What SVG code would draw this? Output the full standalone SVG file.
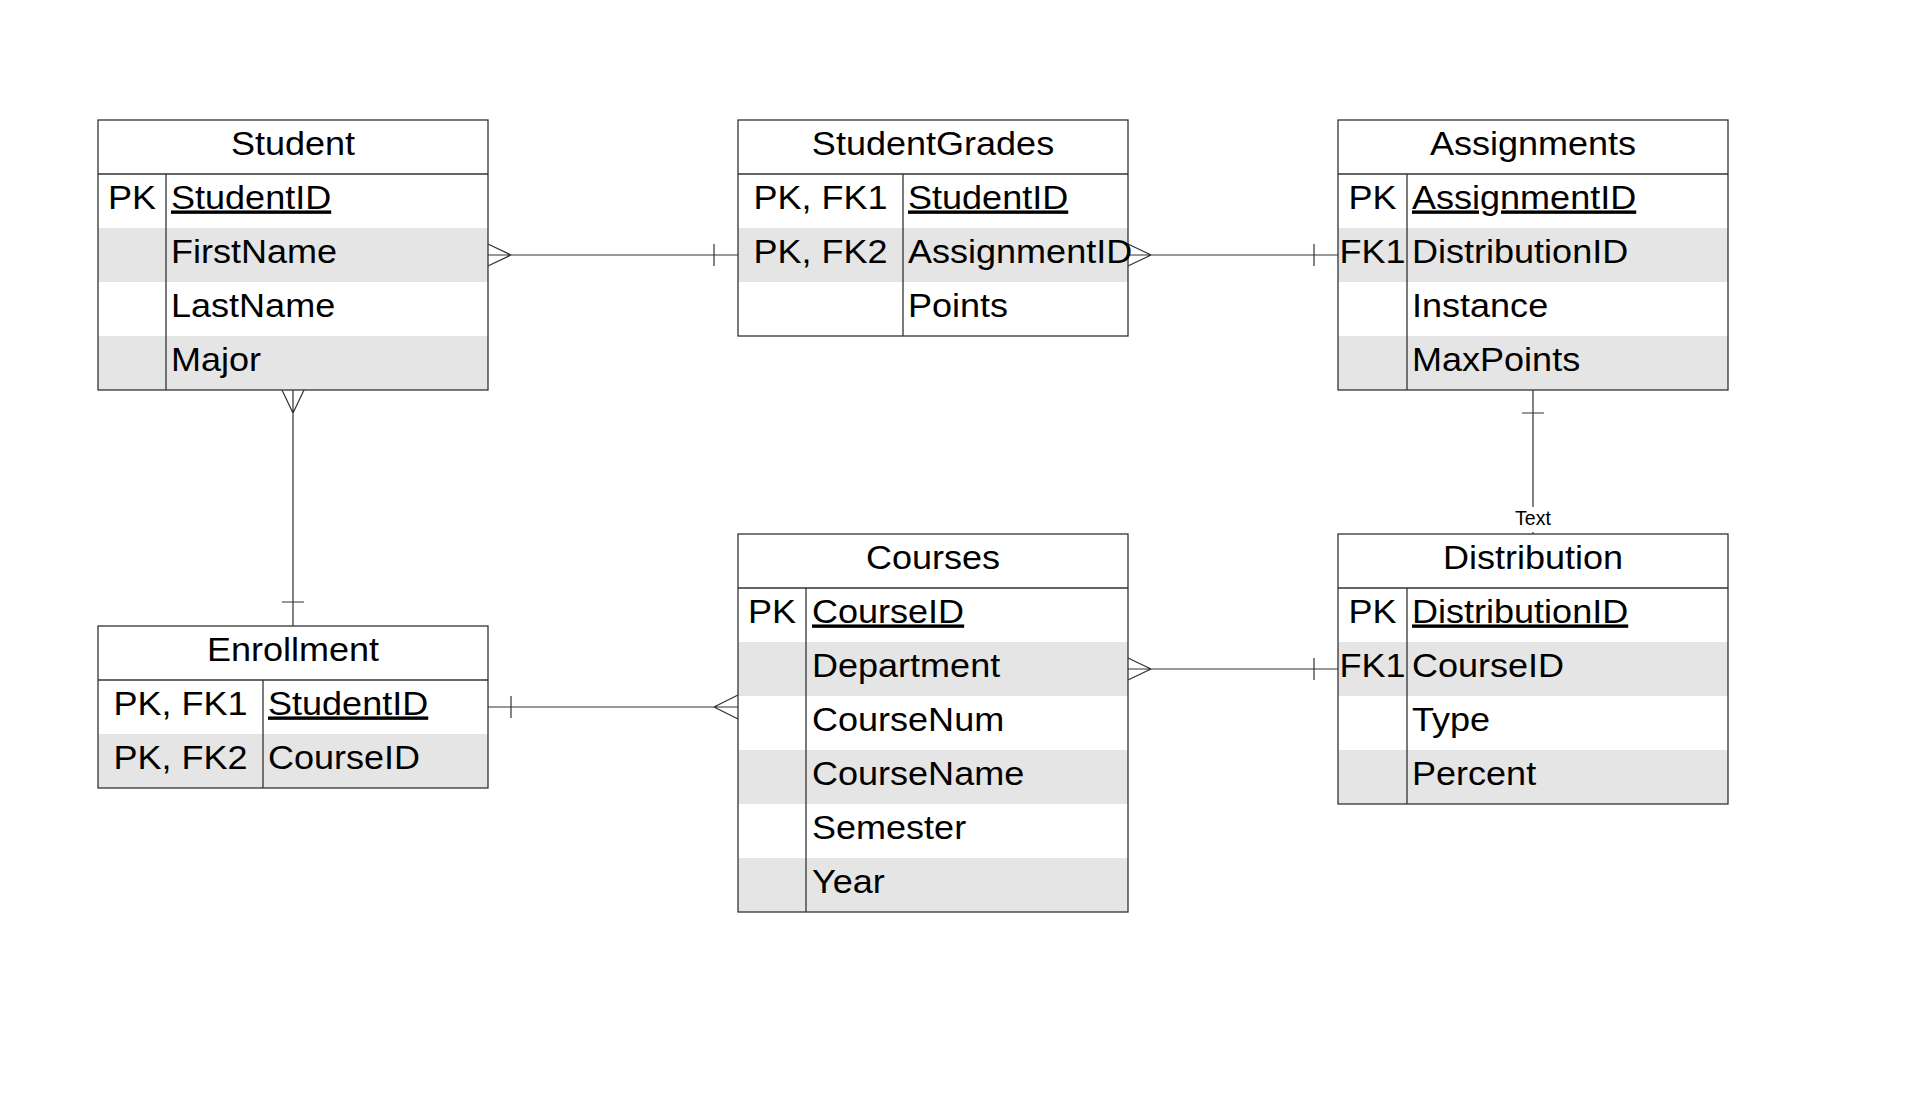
<svg xmlns="http://www.w3.org/2000/svg" width="1916" height="1104" viewBox="0 0 1916 1104">
<style>
.bg{fill:#ffffff}
.box{fill:none;stroke:#333333;stroke-width:1.3}
.div{fill:none;stroke:#333333;stroke-width:1.3}
.alt{fill:#e5e5e5;stroke:none}
.t{font-family:"Liberation Sans",Arial,sans-serif;font-size:34px;fill:#000000}
.h{text-anchor:middle}
.k{text-anchor:middle}
.u{text-decoration:underline}
.c{fill:none;stroke:#333333;stroke-width:1.2}
.lbl{font-family:"Liberation Sans",Arial,sans-serif;font-size:19.5px;fill:#000000;text-anchor:middle}
</style>
<rect x="0" y="0" width="1916" height="1104" fill="#ffffff"/>

<g id="connectors">
  <!-- Student - StudentGrades -->
  <path class="c" d="M488,255 H738 M488,244 L511,255 L488,266 M714,244 V266"/>
  <!-- StudentGrades - Assignments -->
  <path class="c" d="M1128,255 H1338 M1128,244 L1151,255 L1128,266 M1314,244 V266"/>
  <!-- Student - Enrollment -->
  <path class="c" d="M293,390 V626 M282,390 L293,413 L304,390 M282,602 H304"/>
  <!-- Enrollment - Courses -->
  <path class="c" d="M488,707 H738 M511,696 V718 M738,695 L714,707 L738,719"/>
  <!-- Courses - Distribution -->
  <path class="c" d="M1128,669 H1338 M1128,658 L1151,669 L1128,680 M1314,658 V680"/>
  <!-- Assignments - Distribution -->
  <path class="c" d="M1533,390 V534 M1522,413 H1544"/>
  <rect x="1511" y="507" width="44" height="25" fill="#ffffff"/>
  <text class="lbl" x="1533" y="525">Text</text>
</g>

<g id="student">
  <rect class="bg" x="98" y="120" width="390" height="270"/>
  <rect class="alt" x="98" y="228" width="390" height="54"/>
  <rect class="alt" x="98" y="336" width="390" height="54"/>
  <path class="div" d="M98,174 H488 M166,174 V390"/>
  <rect class="box" x="98" y="120" width="390" height="270"/>
  <text class="t h" transform="translate(293,154.5) scale(1.06,1)">Student</text>
  <text class="t k" transform="translate(132,208.5) scale(1.06,1)">PK</text>
  <text class="t u" transform="translate(171,208.5) scale(1.06,1)">StudentID</text>
  <text class="t" transform="translate(171,262.5) scale(1.06,1)">FirstName</text>
  <text class="t" transform="translate(171,316.5) scale(1.06,1)">LastName</text>
  <text class="t" transform="translate(171,370.5) scale(1.06,1)">Major</text>
</g>

<g id="studentgrades">
  <rect class="bg" x="738" y="120" width="390" height="216"/>
  <rect class="alt" x="738" y="228" width="390" height="54"/>
  <path class="div" d="M738,174 H1128 M903,174 V336"/>
  <rect class="box" x="738" y="120" width="390" height="216"/>
  <text class="t h" transform="translate(933,154.5) scale(1.06,1)">StudentGrades</text>
  <text class="t k" transform="translate(820.5,208.5) scale(1.06,1)">PK, FK1</text>
  <text class="t u" transform="translate(908,208.5) scale(1.06,1)">StudentID</text>
  <text class="t k" transform="translate(820.5,262.5) scale(1.06,1)">PK, FK2</text>
  <text class="t" transform="translate(908,262.5) scale(1.06,1)">AssignmentID</text>
  <text class="t" transform="translate(908,316.5) scale(1.06,1)">Points</text>
</g>

<g id="assignments">
  <rect class="bg" x="1338" y="120" width="390" height="270"/>
  <rect class="alt" x="1338" y="228" width="390" height="54"/>
  <rect class="alt" x="1338" y="336" width="390" height="54"/>
  <path class="div" d="M1338,174 H1728 M1407,174 V390"/>
  <rect class="box" x="1338" y="120" width="390" height="270"/>
  <text class="t h" transform="translate(1533,154.5) scale(1.06,1)">Assignments</text>
  <text class="t k" transform="translate(1372.5,208.5) scale(1.06,1)">PK</text>
  <text class="t u" transform="translate(1412,208.5) scale(1.06,1)">AssignmentID</text>
  <text class="t k" transform="translate(1372.5,262.5) scale(1.06,1)">FK1</text>
  <text class="t" transform="translate(1412,262.5) scale(1.06,1)">DistributionID</text>
  <text class="t" transform="translate(1412,316.5) scale(1.06,1)">Instance</text>
  <text class="t" transform="translate(1412,370.5) scale(1.06,1)">MaxPoints</text>
</g>

<g id="enrollment">
  <rect class="bg" x="98" y="626" width="390" height="162"/>
  <rect class="alt" x="98" y="734" width="390" height="54"/>
  <path class="div" d="M98,680 H488 M263,680 V788"/>
  <rect class="box" x="98" y="626" width="390" height="162"/>
  <text class="t h" transform="translate(293,660.5) scale(1.06,1)">Enrollment</text>
  <text class="t k" transform="translate(180.5,714.5) scale(1.06,1)">PK, FK1</text>
  <text class="t u" transform="translate(268,714.5) scale(1.06,1)">StudentID</text>
  <text class="t k" transform="translate(180.5,768.5) scale(1.06,1)">PK, FK2</text>
  <text class="t" transform="translate(268,768.5) scale(1.06,1)">CourseID</text>
</g>

<g id="courses">
  <rect class="bg" x="738" y="534" width="390" height="378"/>
  <rect class="alt" x="738" y="642" width="390" height="54"/>
  <rect class="alt" x="738" y="750" width="390" height="54"/>
  <rect class="alt" x="738" y="858" width="390" height="54"/>
  <path class="div" d="M738,588 H1128 M806,588 V912"/>
  <rect class="box" x="738" y="534" width="390" height="378"/>
  <text class="t h" transform="translate(933,568.5) scale(1.06,1)">Courses</text>
  <text class="t k" transform="translate(772,622.5) scale(1.06,1)">PK</text>
  <text class="t u" transform="translate(812,622.5) scale(1.06,1)">CourseID</text>
  <text class="t" transform="translate(812,676.5) scale(1.06,1)">Department</text>
  <text class="t" transform="translate(812,730.5) scale(1.06,1)">CourseNum</text>
  <text class="t" transform="translate(812,784.5) scale(1.06,1)">CourseName</text>
  <text class="t" transform="translate(812,838.5) scale(1.06,1)">Semester</text>
  <text class="t" transform="translate(812,892.5) scale(1.06,1)">Year</text>
</g>

<g id="distribution">
  <rect class="bg" x="1338" y="534" width="390" height="270"/>
  <rect class="alt" x="1338" y="642" width="390" height="54"/>
  <rect class="alt" x="1338" y="750" width="390" height="54"/>
  <path class="div" d="M1338,588 H1728 M1407,588 V804"/>
  <rect class="box" x="1338" y="534" width="390" height="270"/>
  <text class="t h" transform="translate(1533,568.5) scale(1.06,1)">Distribution</text>
  <text class="t k" transform="translate(1372.5,622.5) scale(1.06,1)">PK</text>
  <text class="t u" transform="translate(1412,622.5) scale(1.06,1)">DistributionID</text>
  <text class="t k" transform="translate(1372.5,676.5) scale(1.06,1)">FK1</text>
  <text class="t" transform="translate(1412,676.5) scale(1.06,1)">CourseID</text>
  <text class="t" transform="translate(1412,730.5) scale(1.06,1)">Type</text>
  <text class="t" transform="translate(1412,784.5) scale(1.06,1)">Percent</text>
</g>
</svg>
